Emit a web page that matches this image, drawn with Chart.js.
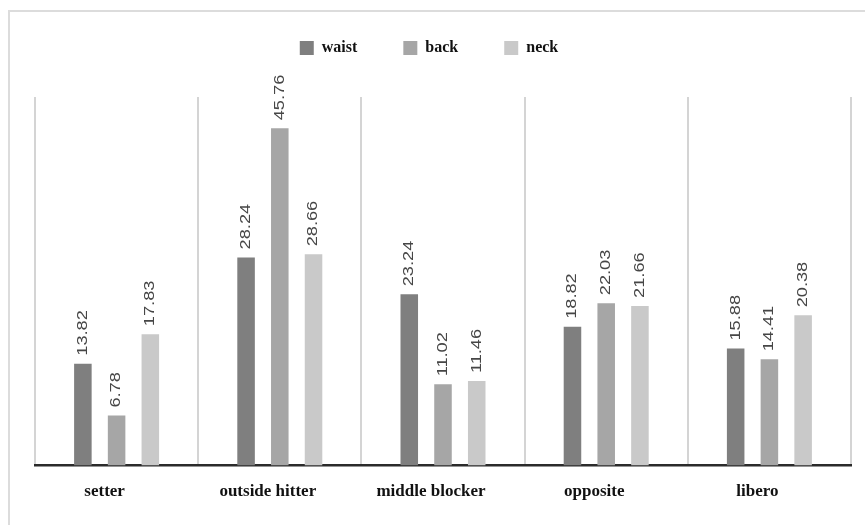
<!DOCTYPE html>
<html>
<head>
<meta charset="utf-8">
<script src="https://cdn.jsdelivr.net/npm/chart.js@4.4.1/dist/chart.umd.min.js"></script>
<style>
  html, body { margin: 0; padding: 0; background: #fff; }
  #wrap { position: relative; width: 865px; height: 525px; overflow: hidden; }
  #frame { position: absolute; left: 8px; top: 10px; width: 900px; height: 600px;
           border-left: 2px solid #dcdcdc; border-top: 2px solid #dcdcdc; box-sizing: border-box; }
  canvas { position: absolute; left: 0; top: 0; }
</style>
</head>
<body>
<div id="wrap">
  <div id="frame"></div>
  <canvas id="c" width="865" height="525"></canvas>
</div>
<script>
const positions = ['setter', 'outside hitter', 'middle blocker', 'opposite', 'libero'];
const waist = [13.82, 28.24, 23.24, 18.82, 15.88];
const back  = [6.78, 45.76, 11.02, 22.03, 14.41];
const neck  = [17.83, 28.66, 11.46, 21.66, 20.38];
const seriesNames = ['waist', 'back', 'neck'];
const seriesColors = ['#7f7f7f', '#a6a6a6', '#c9c9c9'];

// Rotated value labels above each bar
const valueLabels = {
  id: 'valueLabels',
  afterDatasetsDraw(chart) {
    const ctx = chart.ctx;
    ctx.save();
    ctx.fillStyle = '#464646';
    ctx.font = '14px "Liberation Sans", Arial, sans-serif';
    ctx.textAlign = 'left';
    ctx.textBaseline = 'middle';
    chart.data.datasets.forEach((ds, di) => {
      const meta = chart.getDatasetMeta(di);
      meta.data.forEach((bar, i) => {
        ctx.save();
        ctx.translate(bar.x, bar.y - 8);
        ctx.rotate(-Math.PI / 2);
        ctx.scale(1.3, 1);
        ctx.fillText(ds.data[i].toFixed(2), 0, 0);
        ctx.restore();
      });
    });
    ctx.restore();
  }
};

// Reserve room under the legend and nudge it into place
const legendSpacing = {
  id: 'legendSpacing',
  beforeInit(chart) {
    const legend = chart.legend;
    if (!legend) return;
    const origFit = legend.fit;
    legend.fit = function () {
      origFit.call(this);
      this.height = 97;
    };
  },
  beforeDraw(chart) {
    const legend = chart.legend;
    if (!legend) return;
    legend.left -= 14;
    legend.right -= 14;
    legend.top -= 6;
  }
};

new Chart(document.getElementById('c'), {
  type: 'bar',
  data: {
    labels: positions,
    datasets: [waist, back, neck].map((d, k) => ({
      label: seriesNames[k],
      data: d,
      backgroundColor: seriesColors[k],
      categoryPercentage: 0.62,
      barPercentage: 0.52
    }))
  },
  options: {
    responsive: false,
    animation: false,
    layout: { padding: { left: 35, right: 14, top: 0, bottom: 7 } },
    plugins: {
      tooltip: { enabled: false },
      legend: {
        position: 'top',
        labels: {
          color: '#111',
          font: { family: '"Liberation Serif", "Times New Roman", serif', size: 16, weight: 'bold' },
          boxWidth: 14,
          boxHeight: 14,
          padding: 46
        }
      }
    },
    scales: {
      x: {
        grid: { display: true, offset: true, color: '#d4d4d4', lineWidth: 2, drawTicks: false },
        border: { display: true, color: '#2b2b2b', width: 2.5 },
        ticks: {
          color: '#111',
          padding: 16,
          labelOffset: -12,
          font: { family: '"Liberation Serif", "Times New Roman", serif', size: 17, weight: 'bold' }
        }
      },
      y: {
        display: false,
        min: 0,
        max: 50
      }
    }
  },
  plugins: [valueLabels, legendSpacing]
});
</script>
</body>
</html>
